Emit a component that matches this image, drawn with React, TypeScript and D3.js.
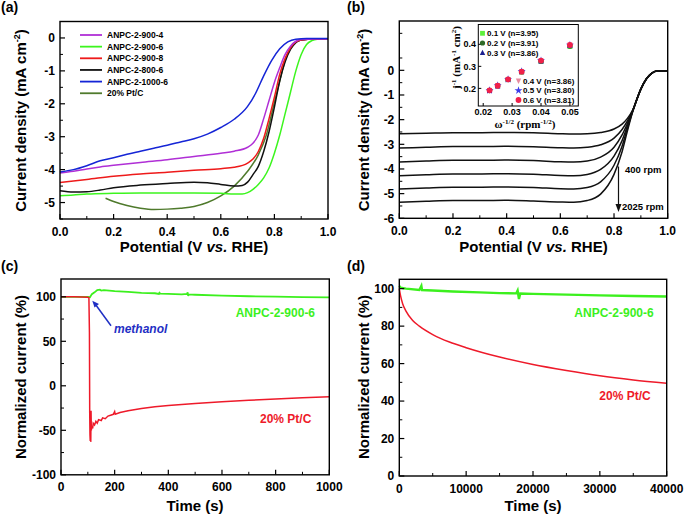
import React from 'react';
import * as d3 from 'd3';

type Pt = [number, number];

// ---------- Panel (a) data: LSV curves (V vs RHE, mA cm^-2)
const lsv900_4: Pt[] = [[0,-4.1],[0.05,-4.05],[0.1,-3.98],[0.15,-3.92],[0.2,-3.87],[0.3,-3.78],[0.4,-3.7],[0.5,-3.6],[0.6,-3.5],[0.65,-3.44],[0.7,-3.32],[0.72,-3.2],[0.74,-2.95],[0.76,-2.45],[0.78,-1.9],[0.8,-1.35],[0.82,-0.9],[0.84,-0.5],[0.86,-0.25],[0.88,-0.1],[0.9,-0.05],[0.95,-0.03],[1.0,-0.03]];
const lsv900_6: Pt[] = [[0,-4.79],[0.05,-4.77],[0.1,-4.74],[0.2,-4.72],[0.3,-4.71],[0.4,-4.71],[0.5,-4.71],[0.6,-4.72],[0.65,-4.74],[0.68,-4.74],[0.7,-4.7],[0.72,-4.6],[0.74,-4.45],[0.76,-4.25],[0.78,-3.95],[0.8,-3.5],[0.82,-2.95],[0.84,-2.3],[0.86,-1.65],[0.88,-1.0],[0.9,-0.5],[0.92,-0.2],[0.94,-0.08],[0.96,-0.04],[1.0,-0.03]];
const lsv900_8: Pt[] = [[0,-4.39],[0.1,-4.3],[0.2,-4.2],[0.3,-4.13],[0.4,-4.08],[0.5,-4.02],[0.6,-3.97],[0.65,-3.93],[0.7,-3.8],[0.72,-3.68],[0.74,-3.45],[0.76,-3.05],[0.78,-2.45],[0.8,-1.8],[0.82,-1.1],[0.84,-0.62],[0.86,-0.3],[0.88,-0.12],[0.9,-0.06],[0.95,-0.03],[1.0,-0.03]];
const lsv800_6: Pt[] = [[0,-4.64],[0.05,-4.68],[0.1,-4.67],[0.15,-4.62],[0.2,-4.55],[0.3,-4.47],[0.4,-4.42],[0.5,-4.38],[0.55,-4.4],[0.6,-4.45],[0.65,-4.5],[0.68,-4.48],[0.7,-4.38],[0.72,-4.15],[0.74,-3.9],[0.76,-3.45],[0.78,-2.85],[0.8,-2.1],[0.82,-1.3],[0.84,-0.72],[0.86,-0.35],[0.88,-0.14],[0.9,-0.06],[0.95,-0.03],[1.0,-0.03]];
const lsv1000_6: Pt[] = [[0,-4.07],[0.05,-4.0],[0.1,-3.88],[0.15,-3.73],[0.2,-3.64],[0.25,-3.53],[0.3,-3.44],[0.35,-3.35],[0.4,-3.26],[0.45,-3.16],[0.5,-3.06],[0.55,-2.92],[0.6,-2.72],[0.65,-2.47],[0.7,-2.08],[0.73,-1.68],[0.76,-1.15],[0.79,-0.68],[0.82,-0.33],[0.85,-0.12],[0.88,-0.04],[0.92,-0.02],[1.0,-0.02]];
const lsvPtC: Pt[] = [[0.17,-4.87],[0.2,-4.97],[0.25,-5.09],[0.3,-5.17],[0.35,-5.21],[0.4,-5.2],[0.45,-5.17],[0.5,-5.12],[0.55,-5.0],[0.6,-4.8],[0.65,-4.5],[0.7,-4.05],[0.74,-3.55],[0.77,-2.95],[0.8,-1.95],[0.82,-1.3],[0.84,-0.68],[0.86,-0.3],[0.88,-0.12],[0.9,-0.06],[0.95,-0.03],[1.0,-0.03]];
const seriesNamesA = ['ANPC-2-900-4','ANPC-2-900-6','ANPC-2-900-8','ANPC-2-800-6','ANPC-2-1000-6','20% Pt/C'];
const seriesColorsA = ['#b02fd6','#3cf51e','#ee1a1a','#111111','#1525d6','#4f7a2c'];

// ---------- Panel (b) data: RDE curves at different rpm
const rdeV = [0,0.1,0.2,0.3,0.4,0.5,0.6,0.65,0.7,0.75,0.8,0.83,0.85,0.87,0.9,0.92,0.94,0.96,1.0];
const rde400 = [-2.57,-2.55,-2.53,-2.53,-2.52,-2.53,-2.57,-2.58,-2.57,-2.52,-2.38,-2.18,-1.95,-1.6,-0.75,-0.35,-0.12,-0.03,-0.02];
const rde625 = [-3.15,-3.12,-3.09,-3.09,-3.08,-3.1,-3.14,-3.15,-3.12,-3.02,-2.75,-2.4,-2.05,-1.62,-0.75,-0.35,-0.12,-0.03,-0.02];
const rde900 = [-3.72,-3.68,-3.65,-3.65,-3.64,-3.66,-3.71,-3.72,-3.68,-3.52,-3.12,-2.62,-2.15,-1.63,-0.76,-0.35,-0.12,-0.03,-0.02];
const rde1225 = [-4.27,-4.23,-4.2,-4.2,-4.19,-4.21,-4.26,-4.27,-4.22,-4.02,-3.48,-2.85,-2.25,-1.64,-0.76,-0.36,-0.12,-0.03,-0.02];
const rde1600 = [-4.81,-4.77,-4.74,-4.74,-4.73,-4.75,-4.8,-4.81,-4.75,-4.52,-3.85,-3.08,-2.35,-1.65,-0.77,-0.36,-0.12,-0.03,-0.02];
const rde2025 = [-5.35,-5.31,-5.28,-5.28,-5.27,-5.3,-5.34,-5.35,-5.28,-5.02,-4.22,-3.3,-2.45,-1.66,-0.77,-0.36,-0.12,-0.03,-0.02];

// inset K-L data
const klX = [0.0222,0.025,0.0286,0.0333,0.04,0.05];
const kl01 = [0.191,0.212,0.240,0.274,0.322,0.390];
const kl02 = [0.190,0.211,0.240,0.275,0.323,0.392];
const kl03 = [0.190,0.212,0.241,0.276,0.325,0.395];
const kl04 = [0.191,0.212,0.241,0.276,0.325,0.396];
const kl05 = [0.191,0.213,0.241,0.277,0.326,0.397];
const kl06 = [0.191,0.212,0.241,0.276,0.326,0.397];
const klLabels = ['0.1 V (n=3.95)','0.2 V (n=3.91)','0.3 V (n=3.86)','0.4 V (n=3.86)','0.5 V (n=3.80)','0.6 V (n=3.81)'];

// ---------- Panel (c) data: methanol tolerance
const cGreen: Pt[] = [[0,100],[100,100],[108,99.5],[115,103],[125,105],[135,107.5],[145,108],[150,107],[160,107.5],[200,106.3],[250,105.5],[300,104.5],[350,104],[365,103.2],[367,104.5],[370,103.6],[400,103.3],[450,102.8],[470,103.2],[472,105],[474,101],[476,102.7],[500,102.3],[600,101.3],[700,100.6],[800,100.1],[900,99.7],[1000,99.3]];
const cRed: Pt[] = [[0,100],[50,100],[100,99.5],[104,99],[106,60],[107,-30],[108,-55],[109,-62],[110,-40],[111,-63],[112,-28],[113,-50],[115,-45],[118,-48],[120,-42],[125,-44],[130,-40],[135,-42],[140,-38],[150,-39],[155,-36],[165,-37],[175,-34],[185,-33],[195,-32],[200,-29],[202,-32],[220,-30],[250,-28],[300,-25.5],[350,-23.5],[400,-22],[450,-21],[500,-20],[600,-18],[700,-16.3],[800,-14.8],[900,-13.3],[1000,-12.2]];

// ---------- Panel (d) data: durability
const dGreen: Pt[] = [[0,101.5],[200,100.5],[1000,100],[3000,99.3],[3300,101.5],[3400,99.3],[5000,99],[8000,98.5],[12000,98],[15000,97.6],[17500,97.5],[17700,99],[17900,94.5],[18100,97.4],[20000,97.2],[25000,96.8],[30000,96.4],[35000,96.1],[40000,95.8]];
const dRed: Pt[] = [[0,100],[200,96],[500,92],[1000,88],[2000,83],[3000,80],[5000,75.5],[7500,71.5],[10000,68.5],[15000,63.5],[20000,59.5],[25000,56.3],[30000,53.5],[35000,51.3],[40000,49.5]];

const potTicks = [0, 0.2, 0.4, 0.6, 0.8, 1.0];
const potMinor = [0.1, 0.3, 0.5, 0.7, 0.9];
const aYTicks = [0, -1, -2, -3, -4, -5];
const bYTicks = [0, -1, -2, -3, -4, -5, -6];
const cXTicks = [0, 200, 400, 600, 800, 1000];
const cYTicks = [100, 50, 0, -50, -100];
const dXTicks = [0, 10000, 20000, 30000, 40000];
const dYTicks = [0, 20, 40, 60, 80, 100];

const SANS = '"Liberation Sans", Arial, sans-serif';
const SERIF = '"Liberation Serif", "Times New Roman", serif';

type Sc = d3.ScaleLinear<number, number>;

function Frame({ xs, ys, xMajor, xMinor, yMajor, yMinor, xFmt, yFmt, fs = 12 }: {
  xs: Sc; ys: Sc; xMajor: number[]; xMinor: number[]; yMajor: number[]; yMinor: number[];
  xFmt: (v: number) => string; yFmt: (v: number) => string; fs?: number;
}) {
  const [x0, x1] = xs.range();
  const [y1, y0] = ys.range();
  return (
    <g>
      <rect x={x0} y={y0} width={x1 - x0} height={y1 - y0} fill="none" stroke="#000" strokeWidth={1.4} />
      {xMajor.map((v) => (
        <g key={'xm' + v}>
          <line x1={xs(v)} x2={xs(v)} y1={y1} y2={y1 - 5} stroke="#000" strokeWidth={1.2} />
          <text x={xs(v)} y={y1 + 16.5} textAnchor="middle" fontSize={fs} fontWeight="bold" fontFamily={SANS}>{xFmt(v)}</text>
        </g>
      ))}
      {xMinor.map((v) => (
        <line key={'xn' + v} x1={xs(v)} x2={xs(v)} y1={y1} y2={y1 - 3} stroke="#000" strokeWidth={1} />
      ))}
      {yMajor.map((v) => (
        <g key={'ym' + v}>
          <line x1={x0} x2={x0 + 5} y1={ys(v)} y2={ys(v)} stroke="#000" strokeWidth={1.2} />
          <text x={x0 - 5} y={ys(v)} dy="0.36em" textAnchor="end" fontSize={fs} fontWeight="bold" fontFamily={SANS}>{yFmt(v)}</text>
        </g>
      ))}
      {yMinor.map((v) => (
        <line key={'yn' + v} x1={x0} x2={x0 + 3} y1={ys(v)} y2={ys(v)} stroke="#000" strokeWidth={1} />
      ))}
    </g>
  );
}

const range = (a: number, b: number, s: number) => d3.range(a, b + s / 2, s);

export default function App() {
  // Panel (a)
  const xa = d3.scaleLinear().domain([0, 1]).range([60, 328]);
  const ya = d3.scaleLinear().domain([-5.5, 0.5]).range([219, 21.5]);
  const lineA = d3.line<Pt>().x((d) => xa(d[0])).y((d) => ya(d[1])).curve(d3.curveMonotoneX);
  const seriesA = [lsv900_4, lsv900_6, lsv900_8, lsv800_6, lsv1000_6, lsvPtC];
  const drawOrderA = [5, 1, 3, 2, 0, 4];

  // Panel (b)
  const xb = d3.scaleLinear().domain([0, 1]).range([399.3, 667.7]);
  const yb = d3.scaleLinear().domain([-6, 2]).range([218.3, 21]);
  const lineB = d3.line<number>().x((_, i) => xb(rdeV[i])).y((d) => yb(d)).curve(d3.curveMonotoneX);
  const seriesB = [rde400, rde625, rde900, rde1225, rde1600, rde2025];

  // inset
  const xi = d3.scaleLinear().domain([0.0183, 0.0529]).range([478.3, 578.3]);
  const yi = d3.scaleLinear().domain([0.12, 0.49]).range([106, 24.5]);
  const klSeries = [kl01, kl02, kl03, kl04, kl05, kl06];
  const klColors = ['#5cf03a', '#2e6a26', '#1b1f8f', '#e88aa0', '#3a3aea', '#f0204a'];
  const marker = (k: number, cx: number, cy: number, key: string) => {
    const c = klColors[k];
    const r = 2.4;
    if (k === 0) return <rect key={key} x={cx - r} y={cy - r} width={2 * r} height={2 * r} fill={c} />;
    if (k === 1 || k === 5) return <circle key={key} cx={cx} cy={cy} r={k === 5 ? 2.9 : 2.6} fill={c} />;
    if (k === 2) return <path key={key} d={`M${cx},${cy - r - 0.5}L${cx + r + 0.3},${cy + r}L${cx - r - 0.3},${cy + r}Z`} fill={c} />;
    if (k === 3) return <path key={key} d={`M${cx},${cy + r + 0.5}L${cx + r + 0.3},${cy - r}L${cx - r - 0.3},${cy - r}Z`} fill={c} />;
    return <path key={key} d={d3.symbol(d3.symbolStar, 20)() || ''} transform={`translate(${cx},${cy})`} fill={c} />;
  };

  // Panel (c)
  const xc = d3.scaleLinear().domain([0, 1000]).range([61, 329.3]);
  const yc = d3.scaleLinear().domain([-100, 120]).range([474.8, 279]);
  const lineC = d3.line<Pt>().x((d) => xc(d[0])).y((d) => yc(d[1]));

  // Panel (d)
  const xd = d3.scaleLinear().domain([0, 40000]).range([399.3, 666.7]);
  const yd = d3.scaleLinear().domain([0, 105]).range([476, 279.3]);
  const lineD = d3.line<Pt>().x((d) => xd(d[0])).y((d) => yd(d[1])).curve(d3.curveMonotoneX);
  const lineDg = d3.line<Pt>().x((d) => xd(d[0])).y((d) => yd(d[1]));

  const f1 = (v: number) => v.toFixed(1);
  const fi = (v: number) => String(v);

  const green = '#3cf01e';
  const red = '#ee1a2a';

  return (
    <svg width={685} height={519} style={{ position: 'absolute', left: 0, top: 0, background: '#fff' }} fontFamily={SANS}>
      <rect width={685} height={519} fill="#fff" />

      {/* ===== (a) ===== */}
      <text x={1} y={12} fontSize={14} fontWeight="bold">(a)</text>
      <g>
        {drawOrderA.map((k) => (
          <path key={'a' + k} d={lineA(seriesA[k]) || ''} fill="none" stroke={seriesColorsA[k]} strokeWidth={1.5} />
        ))}
      </g>
      <Frame xs={xa} ys={ya} xMajor={potTicks} xMinor={potMinor} yMajor={aYTicks} yMinor={range(-5.5, 0.5, 1)} xFmt={f1} yFmt={fi} />
      {seriesNamesA.map((n, i) => (
        <g key={'la' + i}>
          <line x1={80} x2={102} y1={35 + i * 11.65} y2={35 + i * 11.65} stroke={seriesColorsA[i]} strokeWidth={1.8} />
          <text x={107} y={35 + i * 11.65} dy="0.35em" fontSize={8.5} fontWeight="bold">{n}</text>
        </g>
      ))}
      <text x={194} y={252} textAnchor="middle" fontSize={15} fontWeight="bold">
        Potential (V <tspan fontStyle="italic">vs.</tspan> RHE)
      </text>
      <text transform="translate(26,120.5) rotate(-90)" textAnchor="middle" fontSize={15} fontWeight="bold">
        Current density (mA cm<tspan dy={-6} fontSize={9}>-2</tspan><tspan dy={6}>)</tspan>
      </text>

      {/* ===== (b) ===== */}
      <text x={347} y={12} fontSize={14} fontWeight="bold">(b)</text>
      {seriesB.map((s, i) => (
        <path key={'b' + i} d={lineB(s) || ''} fill="none" stroke="#111" strokeWidth={1.5} />
      ))}
      <Frame xs={xb} ys={yb} xMajor={potTicks} xMinor={potMinor} yMajor={bYTicks} yMinor={range(-5.5, 1.5, 1)} xFmt={f1} yFmt={fi} />
      <text x={533.5} y={252} textAnchor="middle" fontSize={15} fontWeight="bold">
        Potential (V <tspan fontStyle="italic">vs.</tspan> RHE)
      </text>
      <text transform="translate(369,120) rotate(-90)" textAnchor="middle" fontSize={15} fontWeight="bold">
        Current density (mA cm<tspan dy={-6} fontSize={9}>-2</tspan><tspan dy={6}>)</tspan>
      </text>
      {/* rpm arrow */}
      <line x1={618.5} x2={618.5} y1={166.5} y2={205} stroke="#111" strokeWidth={1.2} />
      <path d="M615.5,204 L621.5,204 L618.5,212 Z" fill="#111" />
      <text x={625} y={172.5} fontSize={9.5} fontWeight="bold">400 rpm</text>
      <text x={622} y={210} fontSize={9.5} fontWeight="bold">2025 rpm</text>

      {/* inset */}
      <rect x={478.3} y={24.5} width={100} height={81.5} fill="#fff" stroke="#000" strokeWidth={1} />
      {[0.02, 0.03, 0.04, 0.05].map((v) => (
        <g key={'ix' + v}>
          <line x1={xi(v)} x2={xi(v)} y1={106} y2={103} stroke="#000" />
          <text x={xi(v)} y={115} textAnchor="middle" fontSize={9} fontWeight="bold">{v.toFixed(2)}</text>
        </g>
      ))}
      {[0.2, 0.3, 0.4].map((v) => (
        <g key={'iy' + v}>
          <line x1={478.3} x2={481.3} y1={yi(v)} y2={yi(v)} stroke="#000" />
          <text x={476} y={yi(v)} dy="0.35em" textAnchor="end" fontSize={9} fontWeight="bold">{v.toFixed(1)}</text>
        </g>
      ))}
      {klSeries.map((s, k) => s.map((v, i) => marker(k, xi(klX[i]), yi(v), `m${k}-${i}`)))}
      {klLabels.map((t, k) => {
        const left = k < 3;
        const mx = left ? 482.5 : 518.5;
        const my = left ? 33.3 + k * 9.7 : 81 + (k - 3) * 9.5;
        return (
          <g key={'kl' + k}>
            {marker(k, mx, my, 'lm' + k)}
            <text x={mx + 4.5} y={my} dy="0.36em" fontSize={8} fontWeight="bold">{t}</text>
          </g>
        );
      })}
      <text transform="translate(460,57.5) rotate(-90)" textAnchor="middle" fontSize={11} fontWeight="bold" fontFamily={SERIF}>
        j<tspan dy={-4} fontSize={7}>-1</tspan><tspan dy={4}> (mA</tspan><tspan dy={-4} fontSize={7}>-1</tspan><tspan dy={4}> cm</tspan><tspan dy={-4} fontSize={7}>2</tspan><tspan dy={4}>)</tspan>
      </text>
      <text x={525} y={127.5} textAnchor="middle" fontSize={11} fontWeight="bold" fontFamily={SERIF}>
        ω<tspan dy={-4} fontSize={7}>-1/2</tspan><tspan dy={4}> (rpm</tspan><tspan dy={-4} fontSize={7}>-1/2</tspan><tspan dy={4}>)</tspan>
      </text>

      {/* ===== (c) ===== */}
      <text x={1} y={270.5} fontSize={14} fontWeight="bold">(c)</text>
      <path d={lineC(cGreen) || ''} fill="none" stroke={green} strokeWidth={1.8} />
      <path d={lineC(cRed) || ''} fill="none" stroke={red} strokeWidth={1.5} />
      <Frame xs={xc} ys={yc} xMajor={cXTicks} xMinor={range(100, 900, 200)} yMajor={cYTicks} yMinor={range(-75, 100, 50)} xFmt={fi} yFmt={fi} />
      <text x={235.7} y={316.7} fontSize={12} fontWeight="bold" fill={green}>ANPC-2-900-6</text>
      <text x={260} y={423} fontSize={12} fontWeight="bold" fill={red}>20% Pt/C</text>
      <line x1={111} y1={325.7} x2={95.5} y2={304.5} stroke="#1f2fc4" strokeWidth={1.5} />
      <path d="M92.3,300.7 L99,304 L94.5,307.5 Z" fill="#1f2fc4" />
      <text x={114} y={333} fontSize={12} fontWeight="bold" fontStyle="italic" fill="#1f2fc4">methanol</text>
      <text x={195} y={510.5} textAnchor="middle" fontSize={15} fontWeight="bold">Time (s)</text>
      <text transform="translate(26,377) rotate(-90)" textAnchor="middle" fontSize={15} fontWeight="bold">Normalized current (%)</text>

      {/* ===== (d) ===== */}
      <text x={347} y={270.5} fontSize={14} fontWeight="bold">(d)</text>
      <path d={lineD(dRed) || ''} fill="none" stroke={red} strokeWidth={1.5} />
      <path d={lineDg(dGreen) || ''} fill="none" stroke={green} strokeWidth={2.4} />
      <Frame xs={xd} ys={yd} xMajor={dXTicks} xMinor={range(5000, 35000, 10000)} yMajor={dYTicks} yMinor={range(10, 90, 20)} xFmt={fi} yFmt={fi} />
      <text x={574.3} y={316.7} fontSize={12} fontWeight="bold" fill={green}>ANPC-2-900-6</text>
      <text x={599.3} y={400} fontSize={12} fontWeight="bold" fill={red}>20% Pt/C</text>
      <text x={533} y={510.5} textAnchor="middle" fontSize={15} fontWeight="bold">Time (s)</text>
      <text transform="translate(368.5,377) rotate(-90)" textAnchor="middle" fontSize={15} fontWeight="bold">Normalized current (%)</text>
    </svg>
  );
}
